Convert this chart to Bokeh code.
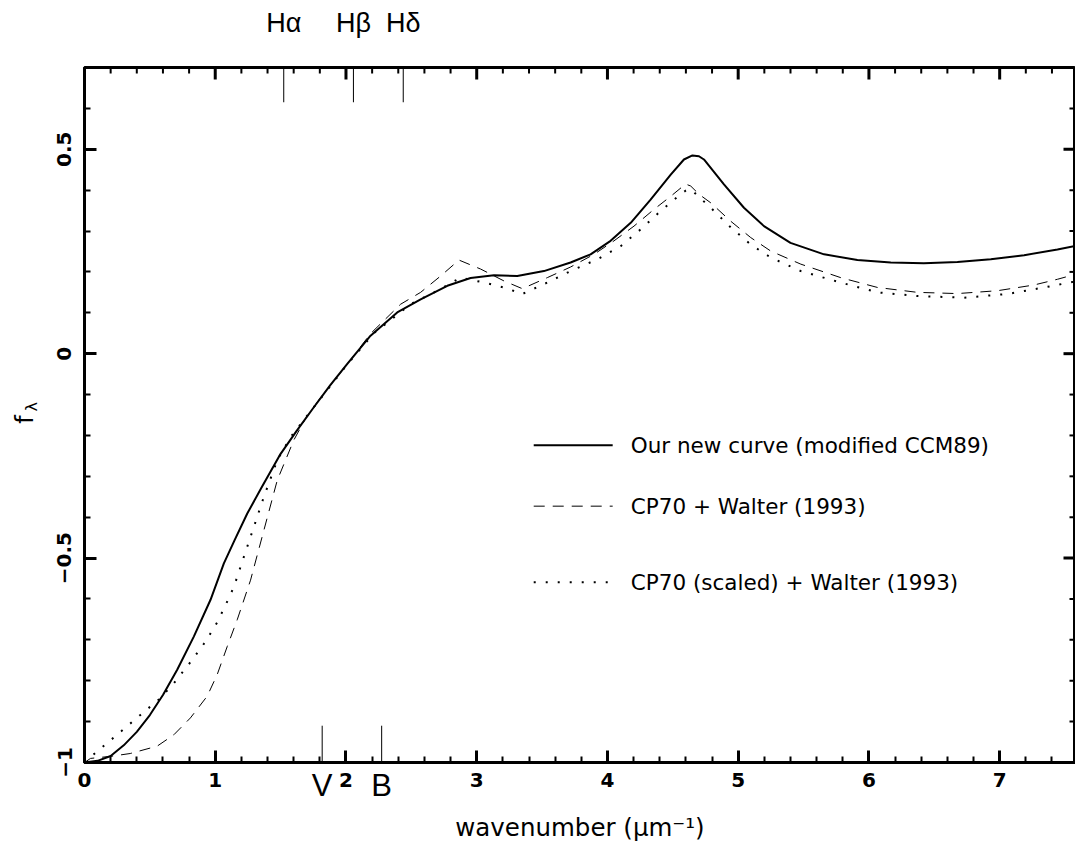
from bokeh.plotting import figure
from bokeh.models import (Range1d, LinearAxis, SingleIntervalTicker, FixedTicker,
                          CustomJSTickFormatter, Label)
from bokeh.embed import file_html
from bokeh.resources import INLINE

# ---------------- data ----------------
new_x = [0, 0.1, 0.2, 0.3, 0.4, 0.5, 0.6, 0.709, 0.836, 0.964, 1.066, 1.15,
         1.245, 1.35, 1.50, 1.62, 1.754, 1.88, 2.01, 2.188, 2.392, 2.571,
         2.775, 2.953, 3.132, 3.31, 3.514, 3.718, 3.871, 4.024, 4.178, 4.33,
         4.484, 4.585, 4.65, 4.70, 4.738, 4.891, 5.044, 5.197, 5.40, 5.657,
         5.912, 6.167, 6.42, 6.677, 6.932, 7.187, 7.442, 7.6]
new_y = [-1.0, -0.996, -0.984, -0.958, -0.925, -0.884, -0.835, -0.773, -0.692,
         -0.602, -0.513, -0.455, -0.391, -0.33, -0.245, -0.19, -0.131, -0.077,
         -0.025, 0.044, 0.101, 0.133, 0.166, 0.185, 0.192, 0.19, 0.202, 0.223,
         0.243, 0.276, 0.32, 0.377, 0.438, 0.475, 0.485, 0.483, 0.475, 0.414,
         0.357, 0.312, 0.271, 0.243, 0.229, 0.223, 0.221, 0.224, 0.231, 0.241,
         0.255, 0.265]

cp70_x = [0, 0.046, 0.2, 0.35, 0.556, 0.684, 0.81, 0.938, 1.015, 1.092, 1.168,
          1.27, 1.372, 1.474, 1.60, 1.69, 1.806, 2.0, 2.188, 2.418, 2.571,
          2.724, 2.864, 3.03, 3.208, 3.349, 3.54, 3.718, 3.897, 4.05, 4.203,
          4.356, 4.484, 4.598, 4.637, 4.70, 4.79, 4.943, 5.096, 5.249, 5.479,
          5.784, 6.065, 6.371, 6.677, 6.983, 7.263, 7.442, 7.6]
cp70_y = [-1.0, -0.99, -0.985, -0.978, -0.96, -0.932, -0.891, -0.838, -0.785,
          -0.716, -0.651, -0.554, -0.432, -0.31, -0.212, -0.159, -0.107, -0.03,
          0.049, 0.121, 0.15, 0.19, 0.229, 0.207, 0.178, 0.159, 0.186, 0.212,
          0.243, 0.276, 0.312, 0.353, 0.385, 0.415, 0.41, 0.39, 0.369, 0.324,
          0.284, 0.251, 0.219, 0.186, 0.162, 0.15, 0.147, 0.154, 0.168, 0.182,
          0.196]

scaled_x = [0, 0.071, 0.25, 0.43, 0.568, 0.684, 0.824, 0.926, 1.015, 1.079,
            1.143, 1.27, 1.372, 1.474, 1.576, 1.754, 2.0, 2.213, 2.494, 2.699,
            2.877, 3.055, 3.208, 3.349, 3.54, 3.718, 3.923, 4.101, 4.254,
            4.407, 4.56, 4.60, 4.637, 4.79, 4.943, 5.096, 5.249, 5.479, 5.784,
            6.065, 6.371, 6.728, 7.06, 7.34, 7.6]
scaled_y = [-1.0, -0.98, -0.932, -0.883, -0.846, -0.806, -0.749, -0.704,
            -0.657, -0.615, -0.57, -0.448, -0.35, -0.261, -0.204, -0.131,
            -0.03, 0.05, 0.121, 0.154, 0.186, 0.174, 0.162, 0.146, 0.174,
            0.202, 0.231, 0.263, 0.304, 0.349, 0.39, 0.399, 0.402, 0.357,
            0.309, 0.267, 0.235, 0.202, 0.174, 0.15, 0.141, 0.137, 0.146,
            0.162, 0.178]

# emission lines (top) and photometric bands (bottom), wavenumber in 1/um
line_labels = ["H\u03b1", "H\u03b2", "H\u03b4"]
line_x = [1.524, 2.057, 2.438]
band_labels = ["V", "B"]
band_x = [1.818, 2.273]

series_labels = ["Our new curve (modified CCM89)",
                 "CP70 + Walter (1993)",
                 "CP70 (scaled) + Walter (1993)"]

# ---------------- layout constants ----------------
XMIN, XMAX = 0.0, 7.58
YMIN, YMAX = -1.0, 0.7
TOP_MARK_LEN = 0.085
BOT_MARK_LEN = 0.09
LEG_X0, LEG_X1, LEG_TX = 3.436, 4.04, 4.178
LEG_Y = [-0.224, -0.373, -0.559]
F_Y = -0.161
LAMBDA_Y = -0.130

W, H = 1075, 855
ML, MT, MB = 84, 67, 93
px_x = (W - ML) / (XMAX - XMIN)
px_y = (H - MT - MB) / (YMAX - YMIN)

styles = [dict(line_width=2, line_dash="solid"),
          dict(line_width=1, line_dash="11 8"),
          dict(line_width=2, line_dash="2 10")]

p = figure(width=W, height=H, x_range=Range1d(XMIN, XMAX),
           y_range=Range1d(YMIN, YMAX), output_backend="svg",
           toolbar_location=None, min_border_left=ML, min_border_top=MT,
           min_border_bottom=MB, min_border_right=0,
           x_axis_location=None, y_axis_location=None)
p.grid.visible = False
p.outline_line_color = "black"
p.outline_line_width = 3
p.background_fill_color = "white"
p.border_fill_color = "white"

num_fmt = CustomJSTickFormatter(
    code="return (tick < 0 ? '\\u2212' : '') + Math.abs(tick).toString();")


def pick_fmt(xs, names):
    return CustomJSTickFormatter(args=dict(xs=xs, names=names), code="""
        let k = 0;
        for (let i = 0; i < xs.length; i++) {
            if (Math.abs(xs[i] - tick) < Math.abs(xs[k] - tick)) { k = i; }
        }
        return names[k];""")


def tick_style(ax, standoff):
    ax.axis_line_width = 3
    ax.major_tick_in = 12
    ax.major_tick_out = 0
    ax.minor_tick_in = 6
    ax.minor_tick_out = 0
    ax.major_tick_line_width = 3
    ax.minor_tick_line_width = 2
    ax.major_label_text_font = "DejaVu Sans"
    ax.major_label_text_font_style = "bold"
    ax.major_label_text_font_size = "20px"
    ax.major_label_text_color = "black"
    ax.major_label_standoff = standoff


def bare(ax):
    ax.axis_line_color = None
    ax.major_tick_line_color = None
    ax.minor_tick_line_color = None
    ax.major_tick_in = 0
    ax.major_tick_out = 0
    ax.minor_tick_in = 0
    ax.minor_tick_out = 0


# bottom: numbers (closest), then V/B row pulled up + axis title
xa = LinearAxis(ticker=SingleIntervalTicker(interval=1, num_minor_ticks=5),
                formatter=num_fmt)
tick_style(xa, 10)
p.add_layout(xa, "below")

vb = LinearAxis(ticker=FixedTicker(ticks=band_x, minor_ticks=[]),
                formatter=pick_fmt(band_x, band_labels))
bare(vb)
vb.major_label_text_font = "Liberation Sans"
vb.major_label_text_font_size = "31px"
vb.major_label_text_color = "black"
vb.major_label_standoff = -22
vb.axis_label = "wavenumber (\u03bcm\u207b\u00b9)"
vb.axis_label_text_font = "DejaVu Sans"
vb.axis_label_text_font_style = "normal"
vb.axis_label_text_font_size = "24.5px"
vb.axis_label_text_color = "black"
vb.axis_label_standoff = 7
p.add_layout(vb, "below")

# left: numbers, then "f", then subscript lambda
ya = LinearAxis(ticker=SingleIntervalTicker(interval=0.5, num_minor_ticks=5),
                formatter=num_fmt)
tick_style(ya, 13)
ya.major_label_orientation = "vertical"
p.add_layout(ya, "left")

fa = LinearAxis(ticker=FixedTicker(ticks=[F_Y], minor_ticks=[]),
                formatter=pick_fmt([F_Y], ["f"]))
bare(fa)
fa.major_label_orientation = "vertical"
fa.major_label_text_font = "DejaVu Sans"
fa.major_label_text_font_size = "24px"
fa.major_label_text_color = "black"
fa.major_label_standoff = 15
p.add_layout(fa, "left")

lam = LinearAxis(ticker=FixedTicker(ticks=[LAMBDA_Y], minor_ticks=[]),
                 formatter=pick_fmt([LAMBDA_Y], ["\u03bb"]))
bare(lam)
lam.major_label_orientation = "vertical"
lam.major_label_text_font = "DejaVu Sans"
lam.major_label_text_font_size = "16px"
lam.major_label_text_color = "black"
lam.major_label_standoff = -33
p.add_layout(lam, "left")

# top: line names
ta = LinearAxis(ticker=FixedTicker(ticks=line_x, minor_ticks=[]),
                formatter=pick_fmt(line_x, line_labels))
bare(ta)
ta.major_label_text_font = "Liberation Sans"
ta.major_label_text_font_size = "27px"
ta.major_label_text_color = "black"
ta.major_label_standoff = 30
p.add_layout(ta, "above")

# inward ticks on top and right edges (frame styling)
maj_x = list(range(0, 8))
min_x = [i / 5 for i in range(0, 39) if i % 5 != 0]
maj_y = [-1.0, -0.5, 0.0, 0.5]
min_y = [i / 10 for i in range(-10, 8) if i % 5 != 0]
p.segment(x0=maj_x, x1=maj_x, y0=[YMAX] * len(maj_x),
          y1=[YMAX - 12 / px_y] * len(maj_x), color="black", line_width=3)
p.segment(x0=min_x, x1=min_x, y0=[YMAX] * len(min_x),
          y1=[YMAX - 6 / px_y] * len(min_x), color="black", line_width=2)
p.segment(x0=[XMAX] * len(maj_y), x1=[XMAX - 12 / px_x] * len(maj_y),
          y0=maj_y, y1=maj_y, color="black", line_width=3)
p.segment(x0=[XMAX] * len(min_y), x1=[XMAX - 6 / px_x] * len(min_y),
          y0=min_y, y1=min_y, color="black", line_width=2)

# curves
for xs, ys, st in zip([new_x, cp70_x, scaled_x], [new_y, cp70_y, scaled_y], styles):
    p.line(xs, ys, color="black", line_cap="butt", line_join="round", **st)

# line / band markers
p.segment(x0=line_x, y0=[YMAX] * len(line_x), x1=line_x,
          y1=[YMAX - TOP_MARK_LEN] * len(line_x), color="black", line_width=1)
p.segment(x0=band_x, y0=[YMIN] * len(band_x), x1=band_x,
          y1=[YMIN + BOT_MARK_LEN] * len(band_x), color="black", line_width=1)

# legend (drawn by hand to match spacing)
for ly, st, lab in zip(LEG_Y, styles, series_labels):
    p.line([LEG_X0, LEG_X1], [ly, ly], color="black", line_cap="butt", **st)
    p.add_layout(Label(x=LEG_TX, y=ly, text=lab, text_align="left",
                       text_baseline="middle", text_font="DejaVu Sans",
                       text_font_size="21.5px", text_color="black"))

open("out.html", "w").write(file_html(p, INLINE))
